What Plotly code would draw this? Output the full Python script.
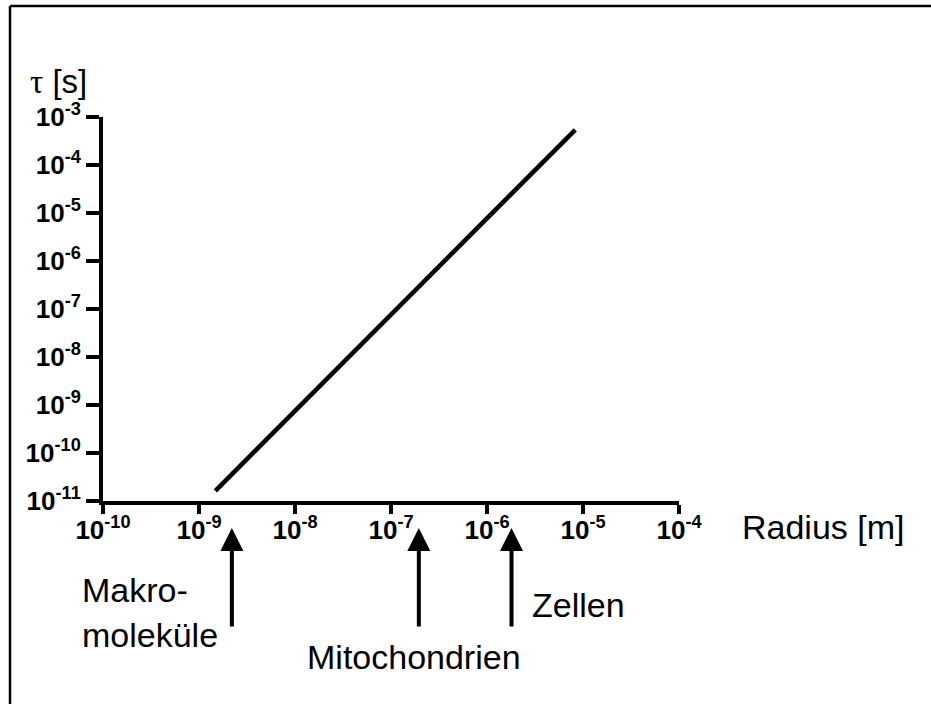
import plotly.graph_objects as go
import math

# Data
radius = [1.48e-9, 8.3e-6]
tau = [1.63e-11, 5.4e-4]

x_tickvals = [1e-10, 1e-9, 1e-8, 1e-7, 1e-6, 1e-5, 1e-4]
x_ticktext = ["10<sup>-10</sup>", "10<sup>-9</sup>", "10<sup>-8</sup>", "10<sup>-7</sup>",
              "10<sup>-6</sup>", "10<sup>-5</sup>", "10<sup>-4</sup>"]
y_tickvals = [1e-11, 1e-10, 1e-9, 1e-8, 1e-7, 1e-6, 1e-5, 1e-4, 1e-3]
y_ticktext = ["10<sup>-11</sup>", "10<sup>-10</sup>", "10<sup>-9</sup>", "10<sup>-8</sup>",
              "10<sup>-7</sup>", "10<sup>-6</sup>", "10<sup>-5</sup>", "10<sup>-4</sup>",
              "10<sup>-3</sup>"]

marker_labels = ["Makro-", "moleküle", "Mitochondrien", "Zellen"]
marker_radius = [2.2e-9, 1.95e-7, 1.8e-6]

W, H = 931, 704
L, R, T, B = 103, 252, 117, 203
pw, ph = W - L - R, H - T - B

def px(xp):
    return (xp - L) / pw

def py(yp):
    return (H - B - yp) / ph

FONT = "Liberation Sans, Arial, sans-serif"

fig = go.Figure()
fig.add_trace(go.Scatter(x=radius, y=tau, mode="lines",
                         line=dict(color="black", width=4.5), showlegend=False,
                         hoverinfo="skip"))

fig.update_xaxes(type="log", range=[-10, -4], tickvals=x_tickvals, ticktext=x_ticktext,
                 showgrid=False, zeroline=False, showline=True, linecolor="black",
                 linewidth=4, ticks="outside", ticklen=9, tickwidth=4, tickcolor="black",
                 ticklabelstandoff=-6,
                 tickfont=dict(family=FONT, size=26, color="black", weight="bold"))
fig.update_yaxes(type="log", range=[-11, -3], tickvals=y_tickvals, ticktext=y_ticktext,
                 showgrid=False, zeroline=False, showline=True, linecolor="black",
                 linewidth=4, ticks="outside", ticklen=13, tickwidth=4, tickcolor="black",
                 tickfont=dict(family=FONT, size=26, color="black", weight="bold"))

anns = []
anns.append(dict(text="<span style='font-family:Liberation Serif, serif'>τ</span> [s]",
                 xref="paper", yref="paper", x=px(28), y=py(81), xanchor="left", yanchor="middle",
                 showarrow=False, font=dict(family=FONT, size=33, color="black")))
anns.append(dict(text="Radius [m]", xref="paper", yref="paper", x=px(740), y=py(527),
                 xanchor="left", yanchor="middle", showarrow=False,
                 font=dict(family=FONT, size=34, color="black")))
anns.append(dict(text=marker_labels[0], xref="paper", yref="paper", x=px(80), y=py(590),
                 xanchor="left", yanchor="middle", showarrow=False,
                 font=dict(family=FONT, size=34, color="black")))
anns.append(dict(text=marker_labels[1], xref="paper", yref="paper", x=px(80), y=py(635),
                 xanchor="left", yanchor="middle", showarrow=False,
                 font=dict(family=FONT, size=34, color="black")))
anns.append(dict(text=marker_labels[2], xref="paper", yref="paper", x=px(414), y=py(657),
                 xanchor="center", yanchor="middle", showarrow=False,
                 font=dict(family=FONT, size=34, color="black")))
anns.append(dict(text=marker_labels[3], xref="paper", yref="paper", x=px(530), y=py(605),
                 xanchor="left", yanchor="middle", showarrow=False,
                 font=dict(family=FONT, size=34, color="black")))

for r in marker_radius:
    anns.append(dict(text="", xref="x", yref="paper", x=math.log10(r), y=py(528),
                     ax=0, ay=100, axref="pixel", ayref="pixel", showarrow=True,
                     arrowhead=2, arrowsize=1.15, arrowwidth=4, arrowcolor="black",
                     standoff=0))

shapes = [
    dict(type="line", xref="paper", yref="paper", x0=px(10), x1=px(945), y0=py(6), y1=py(6),
         line=dict(color="black", width=2.5)),
    dict(type="line", xref="paper", yref="paper", x0=px(10), x1=px(10), y0=py(6), y1=py(720),
         line=dict(color="black", width=2.5)),
]

fig.update_layout(width=W, height=H, margin=dict(l=L, r=R, t=T, b=B),
                  paper_bgcolor="white", plot_bgcolor="white",
                  annotations=anns, shapes=shapes,
                  font=dict(family=FONT, color="black"))

fig.write_html("out.html", config={"displayModeBar": False},
               post_script="document.body.style.margin='0';document.body.style.overflow='hidden';")
